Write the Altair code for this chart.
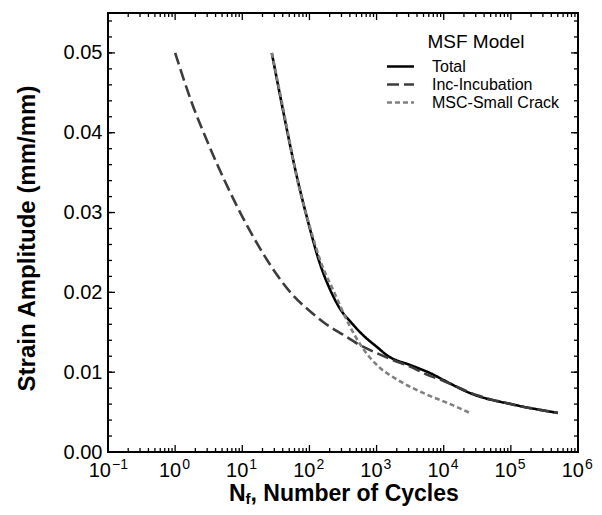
import altair as alt
import pandas as pd

# ---- data ----
series_names = ["Total", "Inc-Incubation", "MSC-Small Crack"]

total_n = [27.5, 40, 63, 100, 136, 215, 316, 381, 675, 1000, 1496, 3160, 4180, 6600, 10000, 26000, 115000, 500000]
total_e = [0.050, 0.0430, 0.0350, 0.0282, 0.0242, 0.0199, 0.0174, 0.0166, 0.0144, 0.0132, 0.0120, 0.0109, 0.0105, 0.0098, 0.0090, 0.0073, 0.0059, 0.0049]

inc_n = [1, 1.78, 3.16, 5.6, 10, 17.8, 31.6, 56, 100, 178, 316, 562, 1000, 1778, 3160, 5620, 10000, 31600, 100000, 500000]
inc_e = [0.050, 0.0437, 0.0385, 0.0338, 0.0295, 0.0257, 0.0224, 0.0197, 0.0177, 0.0160, 0.0147, 0.0134, 0.0124, 0.0115, 0.0107, 0.0097, 0.0089, 0.0071, 0.0060, 0.0049]

msc_n = [27.5, 40, 69, 100, 145, 240, 381, 600, 1070, 2100, 5240, 11700, 24500]
msc_e = [0.050, 0.0433, 0.0334, 0.0284, 0.0240, 0.0198, 0.0161, 0.0132, 0.0107, 0.0090, 0.0073, 0.0061, 0.0049]

x_major = [0.1, 1, 10, 100, 1000, 10000, 100000, 1000000]
x_exps = ["−1", "0", "1", "2", "3", "4", "5", "6"]
x_minor = [k * 10.0 ** d for d in range(-1, 6) for k in range(2, 10)]
y_major = [0.0, 0.01, 0.02, 0.03, 0.04, 0.05]
y_minor = [i * 0.002 for i in range(0, 28)]

W, H = 470, 439

rows = []
for name, ns, es in [("Total", total_n, total_e), ("Inc-Incubation", inc_n, inc_e),
                     ("MSC-Small Crack", msc_n, msc_e)]:
    for i, (n, e) in enumerate(zip(ns, es)):
        rows.append({"series": name, "N": n, "e": e, "o": i})
df = pd.DataFrame(rows)

xscale = alt.Scale(type="log", domain=[0.1, 1e6], nice=False)
yscale = alt.Scale(domain=[0, 0.055], nice=False, zero=False)

yaxis = alt.Axis(values=y_major, format=".2f", labelFontSize=20, labelFont="Liberation Sans",
                 labelColor="black", ticks=False, domain=False, grid=False, labelPadding=6,
                 title="Strain Amplitude (mm/mm)", titleFontSize=24, titleFont="Liberation Sans",
                 titleFontWeight="bold", titleColor="black", titleX=-81, titleY=225,
                 titleAngle=-90, titleAlign="center", titleBaseline="middle", labelFlush=False)

lines = alt.Chart(df).mark_line(interpolate="monotone").encode(
    x=alt.X("N:Q", scale=xscale, axis=None),
    y=alt.Y("e:Q", scale=yscale, axis=yaxis),
    order="o:Q",
    color=alt.Color("series:N", scale=alt.Scale(domain=series_names,
                                                 range=["#000000", "#3c3c3c", "#808080"]),
                    legend=alt.Legend(title="MSF Model")),
    strokeDash=alt.StrokeDash("series:N", scale=alt.Scale(domain=series_names,
                                                           range=[[1, 0], [12, 5], [5, 3]]),
                              legend=alt.Legend(title="MSF Model")),
    strokeWidth=alt.StrokeWidth("series:N", scale=alt.Scale(domain=series_names,
                                                             range=[2.6, 2.6, 2.2]),
                                legend=None),
)

def yticks(vals, length, side):
    d = pd.DataFrame({"v": vals})
    x0, x1 = (0, length) if side == "left" else (W, W - length)
    return alt.Chart(d).mark_rule(color="black", strokeWidth=1.3).encode(
        y=alt.Y("v:Q", scale=yscale, axis=yaxis),
        x=alt.value(x0), x2=alt.value(x1))

def xticks(vals, length, side):
    d = pd.DataFrame({"v": vals})
    y0, y1 = (H, H - length) if side == "bottom" else (0, length)
    return alt.Chart(d).mark_rule(color="black", strokeWidth=1.3).encode(
        x=alt.X("v:Q", scale=xscale, axis=None),
        y=alt.value(y0), y2=alt.value(y1))

tick_layers = [
    yticks(y_major, 7, "left"), yticks(y_minor, 4, "left"),
    yticks(y_major, 7, "right"), yticks(y_minor, 4, "right"),
    xticks(x_major, 7, "bottom"), xticks(x_minor, 4, "bottom"),
    xticks(x_major, 7, "top"), xticks(x_minor, 4, "top"),
]

# x tick labels: "10" with a raised exponent
lab = pd.DataFrame({"v": x_major, "e": x_exps, "b": ["10"] * len(x_major)})
lab_neg = lab[lab["e"] == "−1"]
lab_pos = lab[lab["e"] != "−1"]

def base_text(d, dx):
    return alt.Chart(d).mark_text(align="right", baseline="alphabetic", fontSize=20,
                                  font="Liberation Sans", color="black", dx=dx).encode(
        x=alt.X("v:Q", scale=xscale, axis=None), y=alt.value(H + 25), text="b:N")

def exp_text(d, dx):
    return alt.Chart(d).mark_text(align="left", baseline="alphabetic", fontSize=14,
                                  font="Liberation Sans", color="black", dx=dx).encode(
        x=alt.X("v:Q", scale=xscale, axis=None), y=alt.value(H + 17), text="e:N")

label_layers = [base_text(lab_pos, 6), exp_text(lab_pos, 7),
                base_text(lab_neg, 3), exp_text(lab_neg, 4)]

one = pd.DataFrame({"t": [0]})
title_N = alt.Chart(one).mark_text(text="N", align="left", baseline="alphabetic", fontSize=23,
                                   fontWeight="bold", font="Liberation Sans", color="black").encode(
    x=alt.value(121), y=alt.value(488))
title_f = alt.Chart(one).mark_text(text="f", align="left", baseline="alphabetic", fontSize=15,
                                   fontWeight="bold", font="Liberation Sans", color="black").encode(
    x=alt.value(137.5), y=alt.value(491))
title_rest = alt.Chart(one).mark_text(text=", Number of Cycles", align="left", baseline="alphabetic",
                                      fontSize=23, fontWeight="bold", font="Liberation Sans",
                                      color="black").encode(
    x=alt.value(142.5), y=alt.value(488))

chart = alt.layer(lines, *tick_layers, *label_layers, title_N, title_f, title_rest).properties(
    width=W, height=H,
    autosize=alt.AutoSizeParams(type="none"),
    padding={"left": 100, "top": 5, "right": 16, "bottom": 55},
    background="white",
).configure_view(stroke="black", strokeWidth=2).configure_legend(
    orient="none", legendX=284, legendY=20, padding=0,
    titleFontSize=19, titleFontWeight="normal", titleFont="Liberation Sans", titleColor="black",
    titleAnchor="middle", titlePadding=6,
    labelFontSize=16, labelFont="Liberation Sans", labelColor="black", labelOffset=23,
    symbolType="M-2,0H2", symbolSize=182, symbolStrokeWidth=2.6, rowPadding=1,
)

chart.save("out.html", embed_options={"renderer": "svg", "actions": False})
